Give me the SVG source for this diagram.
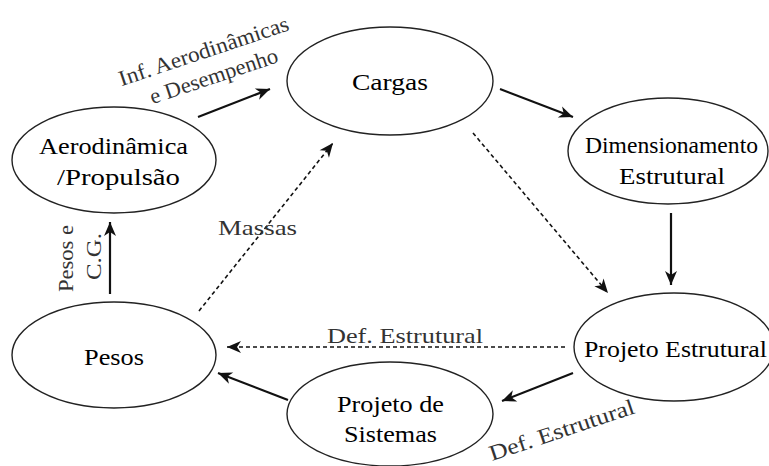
<svg xmlns="http://www.w3.org/2000/svg" width="769" height="466" viewBox="0 0 769 466">
<style>
  .node ellipse { fill: #fff; stroke: #222; stroke-width: 1.4; }
  .nt { font-family: "Liberation Serif", "Times New Roman", serif; font-size: 23px; fill: #000; text-anchor: middle; }
  .lt { font-family: "Liberation Serif", "Times New Roman", serif; font-size: 22px; fill: #333; text-anchor: middle; }
  .solid { stroke: #111; stroke-width: 2.2; fill: none; marker-end: url(#ah); }
  .dash { stroke: #111; stroke-width: 1.6; fill: none; stroke-dasharray: 4 3; marker-end: url(#ah); }
</style>
<defs>
  <marker id="ah" markerUnits="userSpaceOnUse" markerWidth="16" markerHeight="14" viewBox="0 0 16 14" refX="15" refY="7" orient="auto">
    <path d="M1,1 L15,7 L1,13 L5,7 z" fill="#111"/>
  </marker>
</defs>
<rect width="769" height="466" fill="#fff"/>

<g id="connectors">
  <line class="solid" x1="198" y1="117" x2="270" y2="89"/>
  <line class="solid" x1="500" y1="89" x2="573" y2="117"/>
  <line class="solid" x1="671" y1="213" x2="671" y2="285"/>
  <line class="dash" x1="473" y1="133" x2="608" y2="293"/>
  <line class="dash" x1="199" y1="311" x2="333" y2="143"/>
  <line class="dash" x1="565" y1="347" x2="227" y2="347"/>
  <line class="solid" x1="573" y1="373" x2="502" y2="401"/>
  <line class="solid" x1="288" y1="400" x2="218" y2="373"/>
  <line class="solid" x1="110" y1="294" x2="110" y2="222"/>
</g>

<g id="aerodinamica" class="node">
  <ellipse cx="114" cy="160" rx="102" ry="53"/>
  <text class="nt" x="113.5" y="154" textLength="149" lengthAdjust="spacingAndGlyphs">Aerodinâmica</text>
  <text class="nt" x="118.5" y="185" textLength="123" lengthAdjust="spacingAndGlyphs">/Propulsão</text>
</g>
<g id="cargas" class="node">
  <ellipse cx="390" cy="81" rx="103" ry="54"/>
  <text class="nt" x="390" y="90" textLength="76" lengthAdjust="spacingAndGlyphs">Cargas</text>
</g>
<g id="dimensionamento" class="node">
  <ellipse cx="668" cy="151" rx="100" ry="53"/>
  <text class="nt" x="671.5" y="153" textLength="173" lengthAdjust="spacingAndGlyphs">Dimensionamento</text>
  <text class="nt" x="672" y="184" textLength="106" lengthAdjust="spacingAndGlyphs">Estrutural</text>
</g>
<g id="projeto-estrutural" class="node">
  <ellipse cx="674" cy="347" rx="100" ry="54"/>
  <text class="nt" x="675.5" y="357" textLength="183" lengthAdjust="spacingAndGlyphs">Projeto Estrutural</text>
</g>
<g id="pesos" class="node">
  <ellipse cx="114" cy="355" rx="102" ry="53"/>
  <text class="nt" x="114" y="365" textLength="60" lengthAdjust="spacingAndGlyphs">Pesos</text>
</g>
<g id="projeto-sistemas" class="node">
  <ellipse cx="390" cy="414" rx="103" ry="52"/>
  <text class="nt" x="390.5" y="412" textLength="107" lengthAdjust="spacingAndGlyphs">Projeto de</text>
  <text class="nt" x="390.5" y="442" textLength="93" lengthAdjust="spacingAndGlyphs">Sistemas</text>
</g>

<g id="labels">
  <text class="lt" transform="translate(206,58) rotate(-18.5)" textLength="178" lengthAdjust="spacingAndGlyphs">Inf. Aerodinâmicas</text>
  <text class="lt" transform="translate(216,83) rotate(-18.5)" textLength="134" lengthAdjust="spacingAndGlyphs">e Desempenho</text>
  <text class="lt" x="257.5" y="235" textLength="79" lengthAdjust="spacingAndGlyphs">Massas</text>
  <text class="lt" transform="translate(73,258.5) rotate(-90)" textLength="67" lengthAdjust="spacingAndGlyphs">Pesos e</text>
  <text class="lt" transform="translate(101,256.5) rotate(-90)" textLength="47" lengthAdjust="spacingAndGlyphs">C.G.</text>
  <text class="lt" x="405" y="343" textLength="156" lengthAdjust="spacingAndGlyphs">Def. Estrutural</text>
  <text class="lt" transform="translate(564,437) rotate(-18.5)" textLength="152" lengthAdjust="spacingAndGlyphs">Def. Estrutural</text>
</g>
</svg>
